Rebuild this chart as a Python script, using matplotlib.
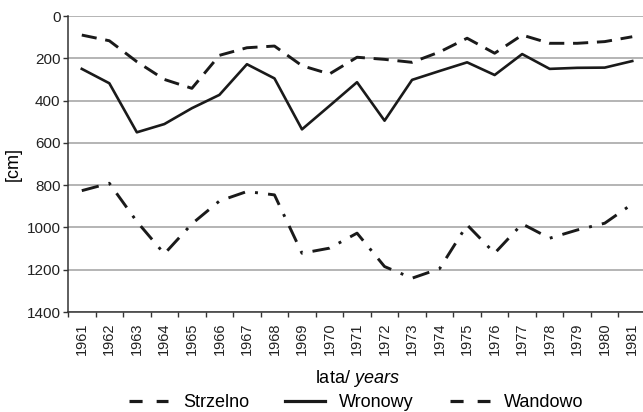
import matplotlib
matplotlib.use("Agg")
import matplotlib.pyplot as plt
import numpy as np

years = [str(y) for y in range(1961, 1982)]
strzelno = [90, 117, 216, 300, 342, 186, 150, 142, 235, 274, 195, 205, 219, 170, 105, 176, 90, 129, 129, 121, 98]
wronowy = [250, 318, 550, 511, 436, 373, 228, 295, 536, 425, 313, 495, 302, 260, 219, 279, 180, 250, 245, 244, 213]
wandowo = [826, 791, 972, 1125, 983, 875, 830, 846, 1122, 1098, 1027, 1185, 1240, 1195, 988, 1122, 983, 1051, 1012, 980, 889]
yticks = [0, 200, 400, 600, 800, 1000, 1200, 1400]

plt.rcParams['font.family'] = ['Liberation Sans', 'DejaVu Sans']
plt.rcParams['mathtext.fontset'] = 'custom'
plt.rcParams['mathtext.it'] = 'Liberation Sans:italic'
plt.rcParams['mathtext.rm'] = 'Liberation Sans'

fig = plt.figure(figsize=(6.43, 4.12), dpi=100)
ax = fig.add_axes([0.1058, 0.2427, 0.8989, 0.7184])

x = np.arange(len(years))
c = '#1a1a1a'
ax.plot(x, strzelno, color=c, lw=2.1, dashes=(5.2, 3.0), label='Strzelno')
ax.plot(x, wronowy, color=c, lw=1.9, label='Wronowy')
ax.plot(x, wandowo, color=c, lw=2.1, dashes=(6, 3.5, 1.0, 3.5), label='Wandowo')

ax.set_ylim(1400, 0)
ax.set_xlim(-0.5, len(years) - 0.5)
ax.set_yticks(yticks)
ax.set_yticklabels([str(v) for v in yticks], fontsize=11, color='#222222')
ax.set_xticks(x)
ax.set_xticklabels(years, rotation=90, fontsize=10.5, color='#222222')
ax.tick_params(axis='x', length=0, pad=7.5)
ax.set_xticks(np.arange(-0.5, len(years)), minor=True)
ax.tick_params(axis='x', which='minor', length=3.5, width=1.0, direction='out', color='#333333')
ax.tick_params(axis='y', length=3.5, width=1.0, direction='out', color='#333333', pad=2)

ax.grid(axis='y', color='#a0a0a0', lw=1.1)
ax.set_axisbelow(True)
for s in ['top', 'right']:
    ax.spines[s].set_visible(False)
ax.spines['left'].set_color('#333333')
ax.spines['bottom'].set_color('#333333')
ax.spines['left'].set_linewidth(1.1)
ax.spines['bottom'].set_linewidth(1.1)

ax.set_ylabel('[cm]', fontsize=13, labelpad=3)
ax.set_xlabel(r'lata/ $\it{years}$', fontsize=13, labelpad=9)

leg = fig.legend(loc='center', bbox_to_anchor=(0.554, 0.022), ncol=3, frameon=False,
                 fontsize=13, handlelength=2.2, columnspacing=2.0, handletextpad=0.8)
lines = leg.get_lines()
for h in lines:
    h.set_linewidth(2.3)
lines[0].set_dashes((4.1, 4.4))
lines[2].set_dashes((4.1, 4.4))

fig.savefig('out.png', dpi=100)
